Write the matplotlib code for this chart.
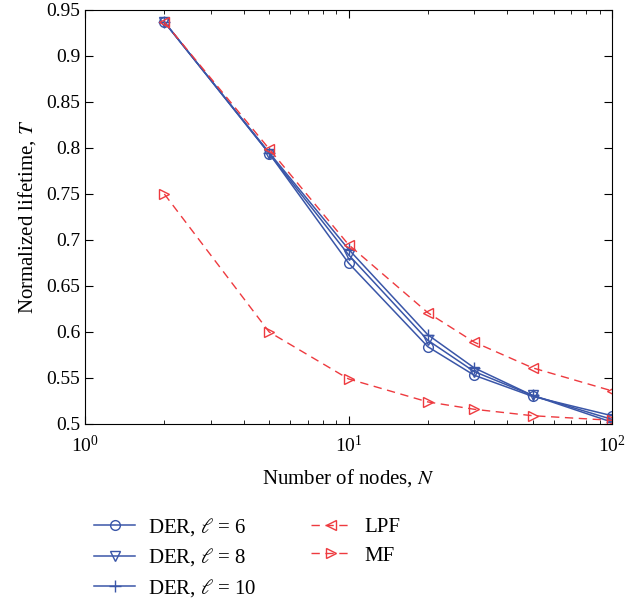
import matplotlib
matplotlib.use("Agg")
import matplotlib.pyplot as plt

plt.rcParams['font.family'] = ['Liberation Serif', 'DejaVu Serif']
plt.rcParams['mathtext.fontset'] = 'stix'

N = [2, 5, 10, 20, 30, 50, 100]
der6 = [0.937, 0.794, 0.675, 0.584, 0.553, 0.530, 0.509]
der8 = [0.937, 0.794, 0.684, 0.591, 0.557, 0.531, 0.505]
der10 = [0.937, 0.795, 0.690, 0.597, 0.561, 0.531, 0.502]
lpf = [0.937, 0.799, 0.695, 0.621, 0.589, 0.561, 0.536]
mf = [0.750, 0.600, 0.549, 0.524, 0.516, 0.509, 0.504]

blue = '#3a56a8'
red = '#ee3a3f'

fig = plt.figure(figsize=(6.27, 6.0), dpi=100)
ax = fig.add_axes([85/627, 1-424/600, (612-85)/627, (424-10)/600])

ax.plot(N, der6, color=blue, lw=1.1, marker='o', ms=7, mfc='none', mec=blue, label=r'DER, $\ell$ = 6')
ax.plot(N, der8, color=blue, lw=1.1, marker='v', ms=7, mfc='none', mec=blue, label=r'DER, $\ell$ = 8')
ax.plot(N, der10, color=blue, lw=1.1, marker='+', ms=9, mec=blue, label=r'DER, $\ell$ = 10')
ax.plot(N, lpf, color=red, lw=1.0, ls=(0, (6, 4)), marker='<', ms=7, mfc='none', mec=red, label='LPF')
ax.plot(N, mf, color=red, lw=1.0, ls=(0, (6, 4)), marker='>', ms=7, mfc='none', mec=red, label='MF')

ax.set_xscale('log')
ax.set_xlim(1, 100)
ax.set_ylim(0.5, 0.95)
ax.set_yticks([0.5, 0.55, 0.6, 0.65, 0.7, 0.75, 0.8, 0.85, 0.9, 0.95])
ax.set_yticklabels(['0.5', '0.55', '0.6', '0.65', '0.7', '0.75', '0.8', '0.85', '0.9', '0.95'])
ax.tick_params(which='both', direction='in', top=True, right=True, labelsize=14)
ax.tick_params(which='major', length=6)
ax.tick_params(which='minor', length=3)
ax.tick_params(axis='x', pad=8)

ax.set_xlabel(r'Number of nodes, $N$', fontsize=15, labelpad=8)
ax.set_ylabel(r'Normalized lifetime, $T$', fontsize=15, labelpad=6)

handles, labels = ax.get_legend_handles_labels()
fig.legend(handles, labels,
           ncol=2, frameon=False, loc='upper left', bbox_to_anchor=(75/627, 1-497/600),
           fontsize=15, handlelength=2.0, handletextpad=0.6, columnspacing=2.6, labelspacing=0.42)

fig.savefig('out.png', dpi=100)
